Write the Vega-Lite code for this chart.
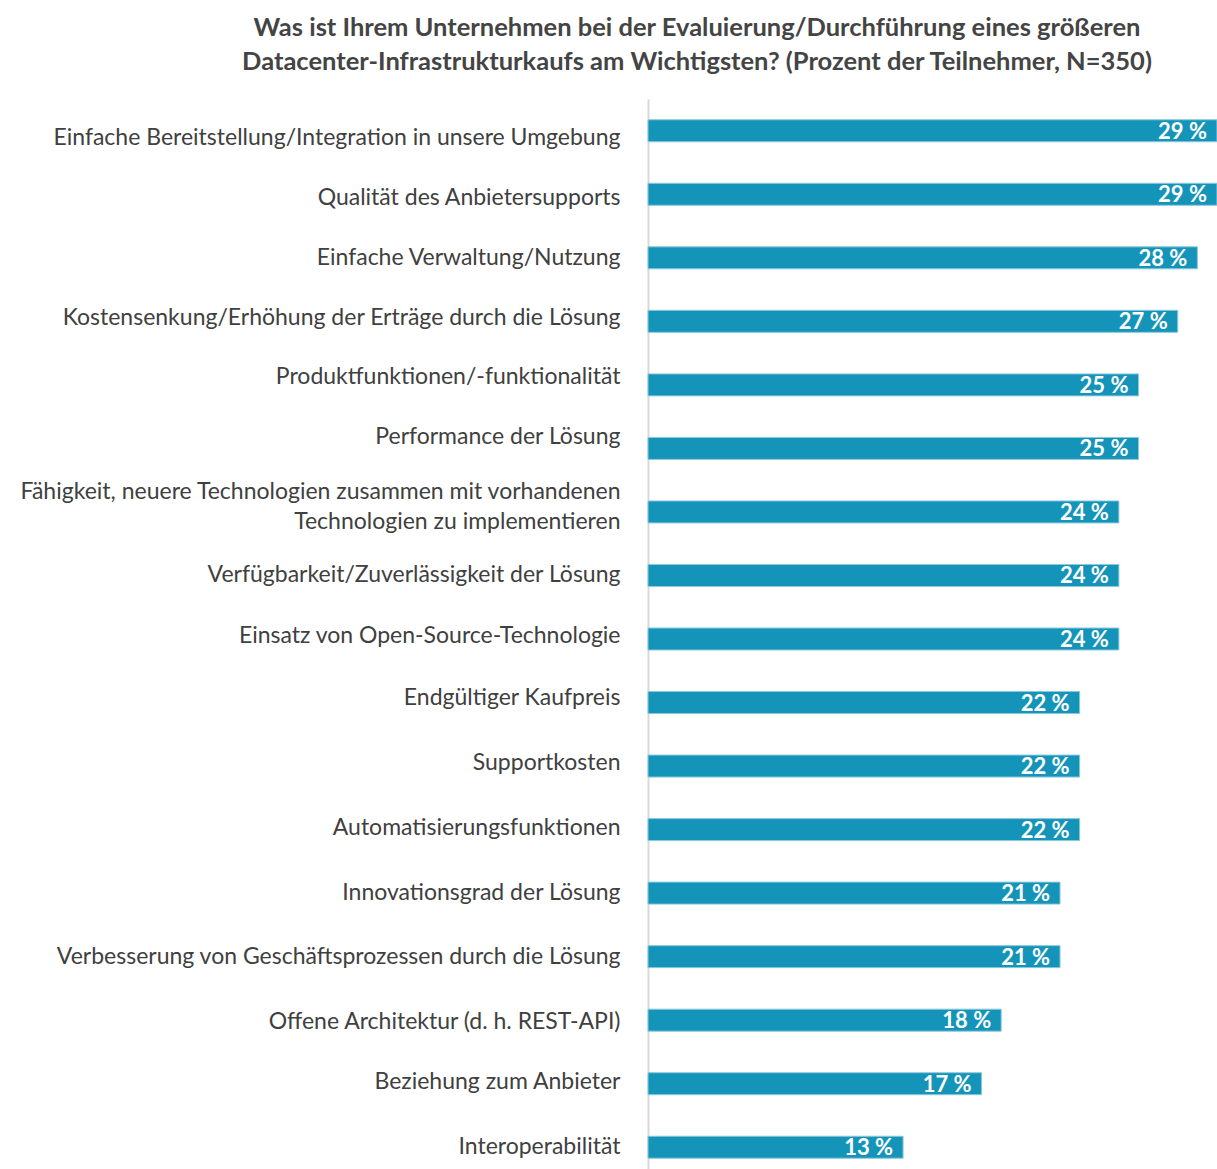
{
  "$schema": "https://vega.github.io/schema/vega-lite/v6.json",
  "width": 569,
  "height": 1080,
  "autosize": "none",
  "padding": {"left": 648, "top": 99, "right": 0, "bottom": 0},
  "background": "white",
  "config": {"view": {"stroke": null}, "font": "Lato"},
  "title": {
    "text": ["Was ist Ihrem Unternehmen bei der Evaluierung/Durchführung eines größeren", "Datacenter-Infrastrukturkaufs am Wichtigsten? (Prozent der Teilnehmer, N=350)"],
    "fontSize": 25.5,
    "fontWeight": "bold",
    "color": "#444444",
    "font": "Lato",
    "frame": "group",
    "anchor": "start",
    "align": "center",
    "dx": 49,
    "lineHeight": 34,
    "offset": 24
  },
  "data": {
    "values": [
      {"item": "Einfache Bereitstellung/Integration in unsere Umgebung", "pct": 29},
      {"item": "Qualität des Anbietersupports", "pct": 29},
      {"item": "Einfache Verwaltung/Nutzung", "pct": 28},
      {"item": "Kostensenkung/Erhöhung der Erträge durch die Lösung", "pct": 27},
      {"item": "Produktfunktionen/-funktionalität", "pct": 25},
      {"item": "Performance der Lösung", "pct": 25},
      {"item": "Fähigkeit, neuere Technologien zusammen mit vorhandenen|Technologien zu implementieren", "pct": 24},
      {"item": "Verfügbarkeit/Zuverlässigkeit der Lösung", "pct": 24},
      {"item": "Einsatz von Open-Source-Technologie", "pct": 24},
      {"item": "Endgültiger Kaufpreis", "pct": 22},
      {"item": "Supportkosten", "pct": 22},
      {"item": "Automatisierungsfunktionen", "pct": 22},
      {"item": "Innovationsgrad der Lösung", "pct": 21},
      {"item": "Verbesserung von Geschäftsprozessen durch die Lösung", "pct": 21},
      {"item": "Offene Architektur (d. h. REST-API)", "pct": 18},
      {"item": "Beziehung zum Anbieter", "pct": 17},
      {"item": "Interoperabilität", "pct": 13}
    ]
  },
  "encoding": {
    "y": {
      "field": "item",
      "type": "nominal",
      "sort": null,
      "scale": {"paddingInner": 0, "paddingOuter": 0},
      "axis": {
        "title": null,
        "ticks": false,
        "grid": false,
        "domain": true,
        "domainColor": "#d9d9d9",
        "domainWidth": 2,
        "labelPadding": 28,
        "labelFontSize": 23,
        "labelColor": "#404040",
        "labelFont": "Lato",
        "labelLimit": 700,
        "labelLineHeight": 30,
        "labelExpr": "split(datum.label, '|')",
        "labelOffset": {
          "condition": [
            {"test": "indexof(datum.value, 'Fähigkeit') === 0", "value": -20},
            {"test": "datum.value === 'Einfache Bereitstellung/Integration in unsere Umgebung'", "value": 7},
            {"test": "datum.value === 'Qualität des Anbietersupports'", "value": 4},
            {"test": "datum.value === 'Kostensenkung/Erhöhung der Erträge durch die Lösung'", "value": -3},
            {"test": "datum.value === 'Produktfunktionen/-funktionalität'", "value": -8},
            {"test": "datum.value === 'Performance der Lösung'", "value": -11},
            {"test": "datum.value === 'Einsatz von Open-Source-Technologie'", "value": -3},
            {"test": "datum.value === 'Endgültiger Kaufpreis'", "value": -5},
            {"test": "datum.value === 'Supportkosten'", "value": -3},
            {"test": "datum.value === 'Automatisierungsfunktionen'", "value": -2},
            {"test": "datum.value === 'Offene Architektur (d. h. REST-API)'", "value": 2},
            {"test": "datum.value === 'Beziehung zum Anbieter'", "value": -2}
          ],
          "value": 0
        }
      }
    },
    "x": {
      "field": "pct",
      "type": "quantitative",
      "scale": {"domain": [0, 29], "nice": false},
      "axis": null
    }
  },
  "layer": [
    {
      "mark": {"type": "bar", "height": 22, "color": "#1594b9", "stroke": "#8cc9dc", "strokeWidth": 1}
    },
    {
      "transform": [{"calculate": "datum.pct + ' %'", "as": "label"}],
      "mark": {"type": "text", "align": "right", "baseline": "middle", "dx": -10, "dy": 1, "color": "white", "fontWeight": "bold", "fontSize": 22, "font": "Lato"},
      "encoding": {"text": {"field": "label"}}
    }
  ]
}
